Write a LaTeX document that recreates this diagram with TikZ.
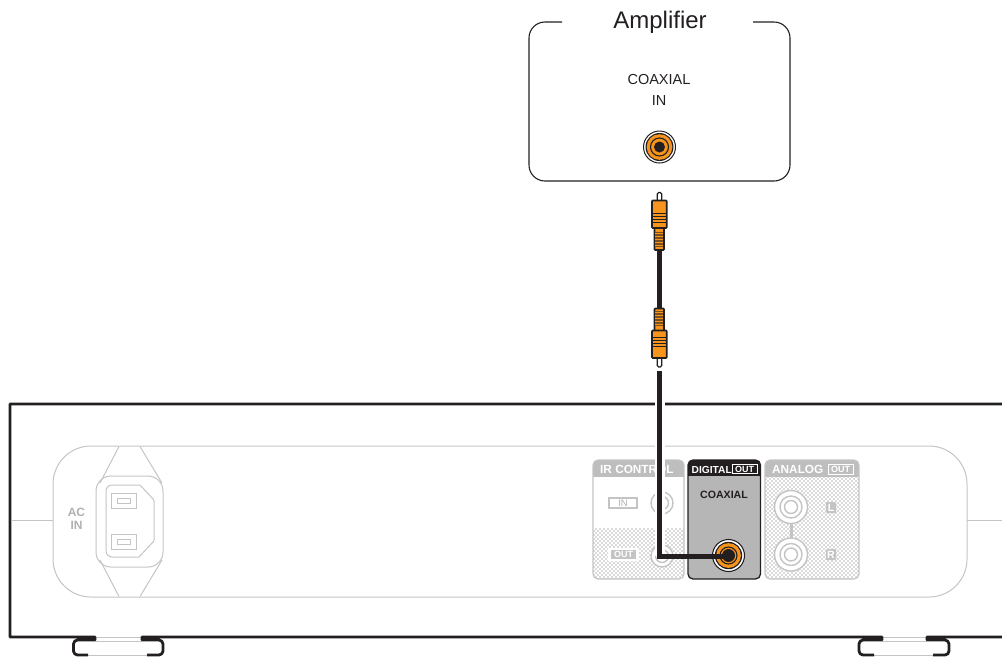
\documentclass[tikz,border=0pt]{standalone}
\usepackage{fontspec}
\setmainfont{Liberation Sans}
\usetikzlibrary{patterns}
\pgfdeclarepatternformonly{sparsedots}{\pgfqpoint{-1pt}{-1pt}}{\pgfqpoint{3pt}{3pt}}{\pgfqpoint{4pt}{4pt}}{
  \pgfpathcircle{\pgfqpoint{0pt}{0pt}}{0.68pt}
  \pgfpathcircle{\pgfqpoint{2pt}{2pt}}{0.68pt}
  \pgfusepath{fill}
}
\definecolor{plugorange}{HTML}{F7941D}
\definecolor{ltg}{HTML}{C4C4C4}
\definecolor{hdr}{HTML}{BEBEBE}
\definecolor{blk}{HTML}{231F20}
\tikzset{
  chassis/.style={draw=blk,line width=2.8pt},
  faint/.style={draw=ltg,line width=1pt},
  ring/.style={draw=ltg,line width=1.4pt},
  stip/.style={pattern=sparsedots,pattern color=black!62},
  hdrlabel/.style={font=\fontsize{11.8}{11.8}\selectfont\bfseries,text=white,inner sep=0pt,anchor=base west},
  graybold/.style={font=\fontsize{12}{13}\selectfont\bfseries,text=ltg!90!black,inner sep=0pt,align=center},
  plugpart/.style={draw=blk,line width=1.6pt,fill=plugorange,rounded corners=0.8pt},
  ridge/.style={draw=blk,line width=1pt},
  cable/.style={draw=blk,line width=5pt},
  halo/.style={draw=white,line width=10pt}
}
\begin{document}
\begin{tikzpicture}[x=1pt,y=-1pt]
\useasboundingbox (0,0) rectangle (1002,657);
% chassis
\draw[faint] (95,637) -- (142,637) (95,641) -- (142,641) (88,655) -- (147,655);
\draw[faint] (882,637) -- (927,637) (882,641) -- (927,641) (874,655) -- (933,655);
\draw[chassis,line join=round] (1002,404) -- (10,404) -- (10,637) -- (95,637) -- (95,640) -- (79,640)
  [rounded corners=4pt] -- (73.5,640) -- (73.5,655) [sharp corners] -- (88,655);
\draw[chassis,line join=round] (147,655) [rounded corners=4pt] -- (163,655) -- (163,640) [sharp corners] -- (142,640) -- (142,637) -- (882,637) -- (882,640)
  [rounded corners=4pt] -- (859,640) -- (859,655) [sharp corners] -- (874,655);
\draw[chassis,line join=round] (933,655) [rounded corners=4pt] -- (949,655) -- (949,640) [sharp corners] -- (927,640) -- (927,637) -- (1002,637);
% panel
\draw[faint] (11,520) -- (53,520) (967,520) -- (1002,520);
\draw[faint] (53,446) [rounded corners=38pt] rectangle (967,597);
% AC inlet
\draw[faint] (100,483) -- (119,446.5) (140,446.5) -- (162,483) (100,560) -- (119,596.5) (140,596.5) -- (162,560);
\draw[faint,rounded corners=15pt] (96,476) rectangle (163,567);
\draw[faint,rounded corners=6pt] (140,485) -- (106,485) -- (106,557) -- (139,557);
\draw[faint,rounded corners=1pt] (140,485) -- (154,500) -- (154,541) -- (139,557);
\draw[faint] (111,493) rectangle (136,508) (117,498) rectangle (130,503);
\draw[faint] (111,534) rectangle (136,549) (117,539) rectangle (130,544);
\node[graybold] (acin) at (76.5,518.5) {AC\\IN};
% IR CONTROL
\fill[white,rounded corners=5pt] (593,460) rectangle (684,579);
\begin{scope}
\clip[rounded corners=5pt] (593,460) rectangle (684,579);
\fill[stip] (593,528) rectangle (684,579);
\fill[hdr] (593,460) rectangle (684,477);
\end{scope}
\draw[ltg,line width=1.1pt,rounded corners=5pt] (593,460) rectangle (684,579);
\node[hdrlabel] (irl) at (600,473.3) {IR CONTROL};
\draw[ltg,line width=1.1pt] (609,498) rectangle (637,508);
\node[font=\fontsize{9.5}{9.5}\selectfont,text=ltg!90!black,inner sep=0pt] (irin) at (623,503) {IN};
\draw[ring,fill=white] (662,503) circle (11);
\draw[ring] (662,503) circle (6.5);
\fill[white] (608,548) rectangle (639,561);
\fill[ltg] (611,550) rectangle (636,559);
\node[font=\fontsize{9}{9}\selectfont\bfseries,text=white,inner sep=0pt] (irout) at (623.5,554.5) {OUT};
\draw[ring,fill=white] (662,556) circle (11);
\draw[ring] (662,556) circle (6.5);
% DIGITAL
\fill[hdr!96!black] (688,460) [rounded corners=5pt] rectangle (760.5,579);
\begin{scope}
\clip[rounded corners=5pt] (688,460) rectangle (760.5,579);
\fill[blk] (688,460) rectangle (760.5,476);
\end{scope}
\draw[blk,line width=1.3pt,rounded corners=5pt] (688,460) rectangle (760.5,579);
\node[hdrlabel,font=\fontsize{10.2}{10.2}\selectfont\bfseries] (dig) at (691.5,473.3) {DIGITAL};
\draw[white,line width=1pt] (732,464) rectangle (757,473.5);
\node[font=\fontsize{9}{9}\selectfont\bfseries,text=white,inner sep=0pt] (digout) at (744.5,469) {OUT};
\node[font=\fontsize{10.6}{10.6}\selectfont\bfseries,text=blk,inner sep=0pt] (coaxl) at (724,495) {COAXIAL};
% ANALOG
\fill[white,rounded corners=5pt] (765,460) rectangle (859,579);
\begin{scope}
\clip[rounded corners=5pt] (765,460) rectangle (859,579);
\fill[stip] (765,477) rectangle (859,579);
\fill[hdr] (765,460) rectangle (859,477);
\end{scope}
\draw[ltg,line width=1.1pt,rounded corners=5pt] (765,460) rectangle (859,579);
\node[hdrlabel] (anl) at (772,473.3) {ANALOG};
\draw[white,line width=1pt] (828,464) rectangle (853,474);
\node[font=\fontsize{9}{9}\selectfont\bfseries,text=white,inner sep=0pt] (anout) at (840.5,469) {OUT};
\draw[ltg,line width=3pt] (791,520) -- (791,542);
\foreach \yy in {507,554.5}{
  \draw[ring,fill=white] (791,\yy) circle (16.5);
  \draw[ring] (791,\yy) circle (11) (791,\yy) circle (6.5);
}
\fill[ltg,rounded corners=1pt] (826,502) rectangle (836,513);
\fill[ltg,rounded corners=1pt] (826,549) rectangle (836,560);
\node[font=\fontsize{10.5}{10.5}\selectfont\bfseries,text=white,inner sep=0pt] (lbl) at (831,507.5) {L};
\node[font=\fontsize{10.5}{10.5}\selectfont\bfseries,text=white,inner sep=0pt] (rbl) at (831,554.5) {R};
% cable, lower: the white edge only follows the vertical run
\coordinate (jackout) at (728.5,555.5);
\coordinate (cabA) at (659.5,371);
\coordinate (cabB) at (659.5,556);
\coordinate (cabC) at (728.5,556);
\draw[halo] (cabA) -- (cabB);
% coaxial jack out
\fill[white] (jackout) circle (16.5);
\draw[blk,line width=1.1pt] (jackout) circle (16);
\fill[blk] (jackout) circle (13.7);
\fill[plugorange] (jackout) circle (12.4);
\draw[blk,line width=1.1pt] (jackout) circle (8.5);
\fill[blk] (jackout) circle (6.5);
\draw[cable,line join=miter] (cabA) -- (cabB) -- (cabC);
% amplifier
\draw[blk,line width=1.1pt,rounded corners=16pt] (562,22) -- (529,22) -- (529,181) -- (790,181) -- (790,22) -- (753,22);
\node[font=\fontsize{24}{24}\selectfont,text=blk,inner sep=0pt] (ampt) at (660,22) {Amplifier};
\node[font=\fontsize{14.5}{21}\selectfont,text=blk,inner sep=0pt,align=center] (coaxin) at (659,89.5) {COAXIAL\\IN};
\coordinate (jackin) at (659.5,147);
\draw[blk,line width=1pt] (jackin) circle (16);
\fill[blk] (jackin) circle (14);
\fill[plugorange] (jackin) circle (12.8);
\draw[blk,line width=1.1pt] (jackin) circle (9);
\fill[blk] (jackin) circle (5.5);
% cable, upper
\coordinate (plugT) at (659.5,250);
\coordinate (plugB) at (659.5,308);
\draw[cable] (plugT) -- (plugB);
% top plug
\draw[blk,line width=1.3pt,fill=white,rounded corners=1.5pt] (657.3,201) -- (657.3,192.5) -- (661.7,192.5) -- (661.7,201);
\draw[plugpart] (654.5,228) rectangle (664,250);
\fill[blk!60!plugorange] (655.2,232) rectangle (663.3,247);
\foreach \yy in {233,236,239,242,245}{\draw[plugorange,line width=1pt] (655.2,\yy) -- (663.3,\yy);}
\draw[plugpart] (652,200.5) rectangle (666.7,228);
\foreach \yy in {213,216,219,222}{\draw[ridge] (652,\yy) -- (666.7,\yy);}
% bottom plug
\draw[blk,line width=1.3pt,fill=white,rounded corners=1.5pt] (657.3,358) -- (657.3,367) -- (661.7,367) -- (661.7,358);
\draw[plugpart] (654.5,308.5) rectangle (664,331);
\fill[blk!60!plugorange] (655.2,311) rectangle (663.3,326);
\foreach \yy in {312,315,318,321,324}{\draw[plugorange,line width=1pt] (655.2,\yy) -- (663.3,\yy);}
\draw[plugpart] (652,330.5) rectangle (666.7,358);
\foreach \yy in {337,340,343,346}{\draw[ridge] (652,\yy) -- (666.7,\yy);}
\end{tikzpicture}
\end{document}
